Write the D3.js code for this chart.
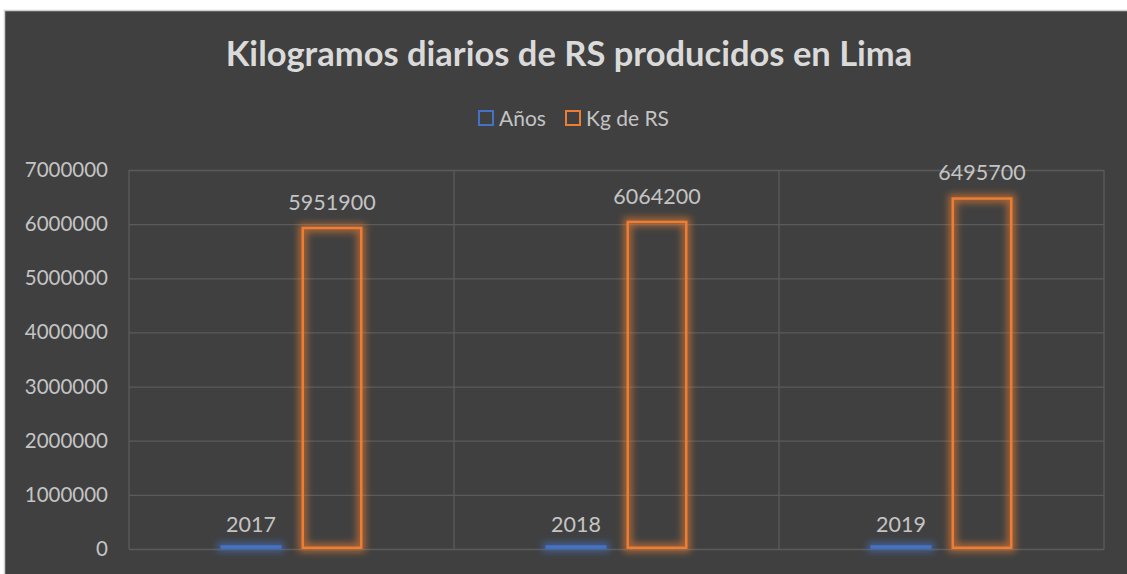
<!DOCTYPE html>
<html>
<head>
<meta charset="utf-8">
<script src="https://cdn.jsdelivr.net/npm/d3@7"></script>
<style>
  html,body{margin:0;padding:0;background:#fff;}
  svg{display:block;font-family:Lato,"Open Sans",sans-serif;}
</style>
</head>
<body>
<svg id="chart"></svg>
<script>
'use strict';
// Kilogramos diarios de RS producidos en Lima — grouped bars, 3 years x 2 series

const categories=['2017','2018','2019'];
const seriesNames=['Años','Kg de RS'];
const anos=[2017,2018,2019];
const kgRS=[5951900,6064200,6495700];
const yTickValues=[0,1000000,2000000,3000000,4000000,5000000,6000000,7000000];
const colors={'Años':'#4472C4','Kg de RS':'#ED7D31'};

const W=1127,H=574;
const m={top:170,right:23,bottom:25,left:129}, w=W-m.left-m.right, h=H-m.top-m.bottom;
const svg=d3.select('#chart').attr('width',W).attr('height',H);

// glow filters (Excel-style soft glow around the outlines); user-space region so
// the near-zero-height "Años" bars are not clipped away
const defs=svg.append('defs');
seriesNames.forEach((s,i)=>{
  const f=defs.append('filter').attr('id','glow'+i).attr('filterUnits','userSpaceOnUse')
    .attr('x',-50).attr('y',-50).attr('width',W+100).attr('height',H+100);
  f.append('feMorphology').attr('in','SourceAlpha').attr('operator','dilate').attr('radius',3).attr('result','d');
  f.append('feGaussianBlur').attr('in','d').attr('stdDeviation',3.5).attr('result','b');
  f.append('feFlood').attr('flood-color',colors[s]).attr('flood-opacity',0.6);
  f.append('feComposite').attr('in2','b').attr('operator','in').attr('result','g');
  const mg=f.append('feMerge');
  mg.append('feMergeNode').attr('in','g');
  mg.append('feMergeNode').attr('in','SourceGraphic');
});

// chart area background + thin outer border
svg.append('rect').attr('x',4.5).attr('y',10.5).attr('width',W).attr('height',H)
  .attr('fill','#404040').attr('stroke','#d0d0d0').attr('stroke-width',1.5);

const g=svg.append('g').attr('transform',`translate(${m.left},${m.top})`);

const x=d3.scaleBand().domain(categories).range([0,w]).paddingInner(0).paddingOuter(0);
const xi=d3.scaleBand().domain(seriesNames).range([0,x.bandwidth()]).paddingInner(0.247).paddingOuter(1.13);
const y=d3.scaleLinear().domain([0,7000000]).range([h,0]);

// horizontal gridlines
g.append('g').attr('class','grid')
  .call(d3.axisLeft(y).tickValues(yTickValues).tickSize(-w).tickFormat(''))
  .call(a=>a.select('.domain').remove())
  .call(a=>a.selectAll('line').attr('stroke','#5b5b5b').attr('stroke-width',1.3));

// vertical category separators
const seps=categories.map(c=>x(c)).concat([w]);
g.append('g').selectAll('line').data(seps).join('line')
  .attr('x1',d=>d).attr('x2',d=>d).attr('y1',0).attr('y2',h)
  .attr('stroke','#5b5b5b').attr('stroke-width',1.3);

// y axis labels
g.append('g').attr('transform','translate(-21,0)')
  .call(d3.axisLeft(y).tickValues(yTickValues).tickSize(0).tickPadding(0).tickFormat(d3.format('d')))
  .call(a=>a.select('.domain').remove())
  .call(a=>a.selectAll('text').attr('fill','#c4c4c4').style('font-size','20.5px').style('font-family','Lato,"Open Sans",sans-serif'));

const rows=categories.map((c,i)=>({cat:c,'Años':anos[i],'Kg de RS':kgRS[i]}));

const groups=g.selectAll('.grp').data(rows).join('g').attr('class','grp')
  .attr('transform',d=>`translate(${x(d.cat)},0)`);

seriesNames.forEach((s,si)=>{
  const thin= s==='Años';
  const sw= thin?3.5:2.5;
  groups.append('rect')
    .attr('x',xi(s)+sw/2).attr('width',xi.bandwidth()-sw)
    .attr('y',d=>thin? y(0)-sw/2-0.3 : y(d[s])+sw/2)
    .attr('height',d=>thin? Math.max(0.1,y(0)-y(d[s])) : Math.max(0,y(0)-y(d[s])-sw))
    .attr('fill',thin?colors[s]:'none')
    .attr('stroke',colors[s]).attr('stroke-width',sw)
    .attr('filter',`url(#glow${si})`);
  groups.append('text')
    .attr('x',xi(s)+xi.bandwidth()/2).attr('y',d=>y(d[s])-17)
    .attr('text-anchor','middle').attr('fill','#c4c4c4').style('font-size','21.5px')
    .text(d=>d[s]);
});

// title
svg.append('text').attr('x',569).attr('y',66).attr('text-anchor','middle')
  .attr('fill','#dadada').style('font-size','34.5px').style('font-weight','bold')
  .text('Kilogramos diarios de RS producidos en Lima');

// legend
const legX=[478,565];
const leg=svg.append('g').selectAll('g').data(seriesNames).join('g')
  .attr('transform',(d,i)=>`translate(${legX[i]},110)`);
leg.append('rect').attr('x',1).attr('y',1).attr('width',14).attr('height',14)
  .attr('fill','none').attr('stroke',d=>colors[d]).attr('stroke-width',2);
leg.append('text').attr('x',21).attr('y',15.5).attr('fill','#c4c4c4').style('font-size','21px').text(d=>d);
</script>
</body>
</html>
